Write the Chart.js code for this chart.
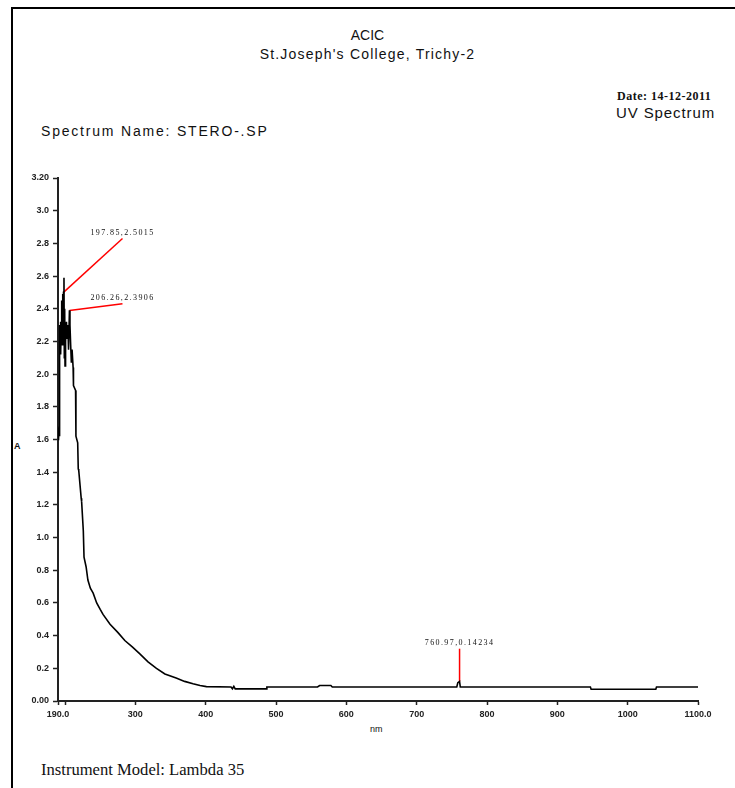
<!DOCTYPE html>
<html>
<head>
<meta charset="utf-8">
<script src="https://cdn.jsdelivr.net/npm/chart.js@4"></script>
<style>
  body { margin: 0; background: #fff; width: 735px; height: 788px; overflow: hidden; position: relative; }
  #frameTop { position: absolute; left: 11px; top: 7px; width: 724px; height: 2px; background: #000; }
  #frameLeft { position: absolute; left: 11px; top: 7px; width: 2px; height: 781px; background: #000; }
  .txt { position: absolute; white-space: nowrap; color: #111; font-family: "Liberation Sans", Arial, sans-serif; }
  .center { left: 0; width: 735px; text-align: center; }
  canvas { position: absolute; left: 0; top: 0; }
</style>
</head>
<body>
<div id="frameTop"></div>
<div id="frameLeft"></div>
<div class="txt center" style="top:28px;font-size:14px;line-height:14px;">ACIC</div>
<div class="txt center" style="top:47px;font-size:14px;line-height:14px;letter-spacing:1.2px;">St.Joseph's College, Trichy-2</div>
<div class="txt" style="left:617px;top:90px;font-size:12px;line-height:12px;font-weight:bold;letter-spacing:0.5px;font-family:'Liberation Serif',serif;">Date: 14-12-2011</div>
<div class="txt" style="left:616px;top:105px;font-size:15px;line-height:15px;letter-spacing:0.9px;">UV Spectrum</div>
<div class="txt" style="left:41px;top:124px;font-size:14px;line-height:14px;letter-spacing:1.8px;">Spectrum Name: STERO-.SP</div>
<div class="txt" style="left:14px;top:442px;font-size:9px;line-height:9px;font-weight:bold;">A</div>
<div class="txt" style="left:370px;top:725px;font-size:9px;line-height:9px;">nm</div>
<div class="txt" style="left:41px;top:761px;font-size:16.6px;line-height:17px;font-family:'Liberation Serif',serif;">Instrument Model: Lambda 35</div>
<canvas id="spectrumChart" width="735" height="788"></canvas>
<script>
// wavelength (nm) and absorbance
const wavelengths = [
  190.0, 190.5, 191.0, 191.5, 192.0, 192.5, 193.0, 193.5, 194.0, 194.5,
  195.0, 195.5, 196.0, 196.5, 197.0, 197.85, 198.5, 199.0, 199.5, 200.0,
  200.5, 201.0, 202.0, 203.0, 204.0, 205.0, 206.26, 207.0, 208.0, 209.0,
  210.0, 211.5, 212.0, 215.0, 215.5, 218.0, 218.8, 219.5, 223.0, 223.6,
  226.0, 227.0, 230.0, 232.5, 236.0, 240.0, 245.0, 250.0, 254.0, 264.0,
  275.0, 285.0, 296.0, 306.0, 318.0, 330.0, 342.0, 358.0, 370.0, 382.0,
  392.0, 401.0, 436.0, 438.0, 440.0, 442.0, 486.0, 487.0, 559.0, 562.0,
  578.0, 580.0, 757.0, 758.5, 760.97, 762.0, 947.0, 948.0, 1040.0, 1041.0,
  1100.0
];
const absorbance = [
  1.60, 1.67, 1.60, 1.68, 1.62, 2.30, 2.15, 2.32, 2.12, 2.28,
  2.20, 2.45, 2.18, 2.49, 2.25, 2.50, 2.59, 2.10, 2.40, 2.05,
  2.30, 2.20, 2.32, 2.22, 2.30, 2.15, 2.39, 2.30, 2.18, 2.07,
  2.15, 2.04, 1.93, 1.90, 1.62, 1.58, 1.42, 1.41, 1.24, 1.22,
  1.04, 0.88, 0.82, 0.74, 0.69, 0.66, 0.60, 0.56, 0.53, 0.47,
  0.42, 0.37, 0.33, 0.29, 0.24, 0.20, 0.165, 0.14, 0.12, 0.105,
  0.095, 0.088, 0.086, 0.075, 0.09, 0.074, 0.074, 0.086, 0.086, 0.095,
  0.095, 0.086, 0.086, 0.112, 0.12, 0.086, 0.086, 0.072, 0.072, 0.086,
  0.086
];

// peak markers: where the red leader starts, where it ends, and its text
const peakLabels = ["197.85,2.5015", "206.26,2.3906", "760.97,0.14234"];
const peakX = [197.85, 206.26, 760.97];
const peakY = [2.50, 2.39, 0.12];
const leaderX = [281.7, 281.7, 760.97];
const leaderY = [2.83, 2.43, 0.32];

const xTicks = [190, 200, 300, 400, 500, 600, 700, 800, 900, 1000, 1100];
const yTicks = [0, 0.2, 0.4, 0.6, 0.8, 1.0, 1.2, 1.4, 1.6, 1.8, 2.0, 2.2, 2.4, 2.6, 2.8, 3.0, 3.2];

const tickFont = { family: "Liberation Sans, Arial, sans-serif", size: 9, weight: "bold" };

const spectrum = wavelengths.map((w, i) => ({ x: w, y: absorbance[i] }));

const leaderSets = peakX.map((px, i) => ({
    data: [{ x: px, y: peakY[i] }, { x: leaderX[i], y: leaderY[i] }],
    borderColor: "#ff0000",
    borderWidth: 1.5,
    pointRadius: 0
}));

// write the peak text just above the end of each leader
const peakTextPlugin = {
    id: "peakText",
    afterDatasetsDraw(chart) {
        const ctx = chart.ctx;
        const xs = chart.scales.x;
        const ys = chart.scales.y;
        ctx.save();
        ctx.font = "8px 'Liberation Serif', serif";
        ctx.letterSpacing = "1.4px";
        ctx.fillStyle = "#111";
        ctx.textAlign = "center";
        ctx.textBaseline = "bottom";
        peakLabels.forEach((t, i) => {
            ctx.fillText(t, xs.getPixelForValue(leaderX[i]), ys.getPixelForValue(leaderY[i]) - 2);
        });
        ctx.restore();
    }
};

const ctx = document.getElementById("spectrumChart").getContext("2d");

new Chart(ctx, {
    type: "line",
    data: {
        datasets: [{
            data: spectrum,
            borderColor: "#000",
            borderWidth: 1.6,
            pointRadius: 0,
            tension: 0
        }, ...leaderSets]
    },
    options: {
        responsive: false,
        animation: false,
        devicePixelRatio: 1,
        layout: { padding: { left: 10, top: 178, right: 37, bottom: 57 } },
        plugins: { legend: { display: false }, tooltip: { enabled: false } },
        scales: {
            x: {
                type: "linear",
                min: 190,
                max: 1100,
                afterBuildTicks: s => { s.ticks = xTicks.map(v => ({ value: v })); },
                afterFit: s => { s.height = 30; },
                border: { color: "#222", width: 2 },
                grid: { drawOnChartArea: false, tickLength: 4, color: "#222", tickWidth: 1.5 },
                ticks: {
                    font: tickFont,
                    color: "#222",
                    padding: 4,
                    maxRotation: 0,
                    autoSkip: false,
                    callback: v => v === 190 ? "190.0" : v === 1100 ? "1100.0" : v === 200 ? "" : String(v)
                }
            },
            y: {
                min: 0,
                max: 3.2,
                afterBuildTicks: s => { s.ticks = yTicks.map(v => ({ value: v })); },
                afterFit: s => { s.width = 48; },
                border: { color: "#222", width: 2 },
                grid: { drawOnChartArea: false, tickLength: 5, color: "#222", tickWidth: 1.5 },
                ticks: {
                    font: tickFont,
                    color: "#222",
                    padding: 4,
                    autoSkip: false,
                    callback: v => v === 0 ? "0.00" : v === 3.2 ? "3.20" : v.toFixed(1)
                }
            }
        }
    },
    plugins: [peakTextPlugin]
});
</script>
</body>
</html>
